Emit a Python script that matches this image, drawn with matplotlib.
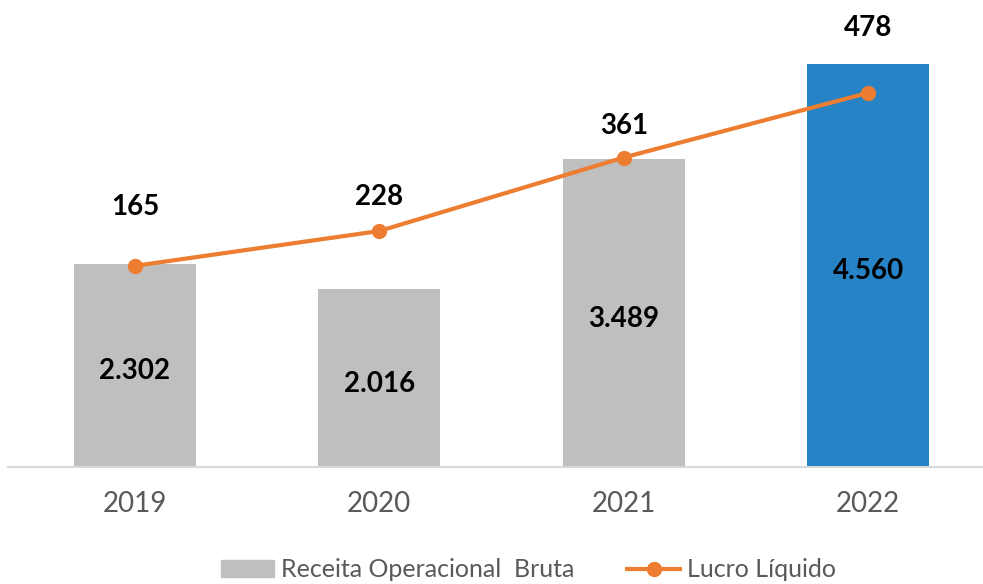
import matplotlib.pyplot as plt
from matplotlib.patches import Patch
from matplotlib.lines import Line2D

anos = ['2019', '2020', '2021', '2022']
receita = [2302, 2016, 3489, 4560]
lucro = [165, 228, 361, 478]
cores_barras = ['#BFBFBF', '#BFBFBF', '#BFBFBF', '#2683C6']
# deslocamento vertical (px) dos rótulos do lucro
desloc_lucro = [59, 34, 32, 65]

plt.rcParams['font.family'] = ['Lato', 'DejaVu Sans']

fig = plt.figure(figsize=(9.83, 5.84), dpi=100)
ax = fig.add_axes([0.008, 0.2003, 0.992, 0.983 - 0.2003])
x = range(len(anos))

ax.bar(x, receita, width=0.5, color=cores_barras, zorder=2)
for i, v in enumerate(receita):
    ax.annotate(f"{v:,}".replace(",", "."), (i, v / 2), xytext=(0, -6),
                textcoords='offset pixels', ha='center', va='center',
                fontsize=20, fontweight='bold', color='black', zorder=3)

ax.set_xlim(-0.52, 3.47)
ax.set_ylim(0, 5171)
ax.set_yticks([])
ax.set_xticks(list(x))
ax.set_xticklabels(anos, fontsize=20, color='#595959')
ax.tick_params(axis='x', length=0, pad=17)
for s in ['top', 'right', 'left']:
    ax.spines[s].set_visible(False)
ax.spines['bottom'].set_color('#D9D9D9')
ax.spines['bottom'].set_linewidth(1.5)

ax2 = ax.twinx()
ax2.plot(list(x), lucro, color='#ED7D31', linewidth=3, marker='o', markersize=10, zorder=4)
ax2.set_ylim(-199, 628)
ax2.set_yticks([])
for s in ax2.spines.values():
    s.set_visible(False)
for i, v in enumerate(lucro):
    ax2.annotate(str(v), (i, v), xytext=(0, desloc_lucro[i]), textcoords='offset pixels',
                 ha='center', va='center', fontsize=20, fontweight='bold', color='black')

handles = [Patch(color='#BFBFBF'),
           Line2D([0], [0], color='#ED7D31', linewidth=3, marker='o', markersize=10)]
fig.legend(handles, ['Receita Operacional  Bruta', 'Lucro Líquido'], loc='center',
           bbox_to_anchor=(0.538, 0.024), ncol=2, frameon=False, fontsize=18,
           labelcolor='#595959', handlelength=2.1, handletextpad=0.3, columnspacing=2.1,
           borderpad=0)

fig.savefig('out.png', dpi=100)
